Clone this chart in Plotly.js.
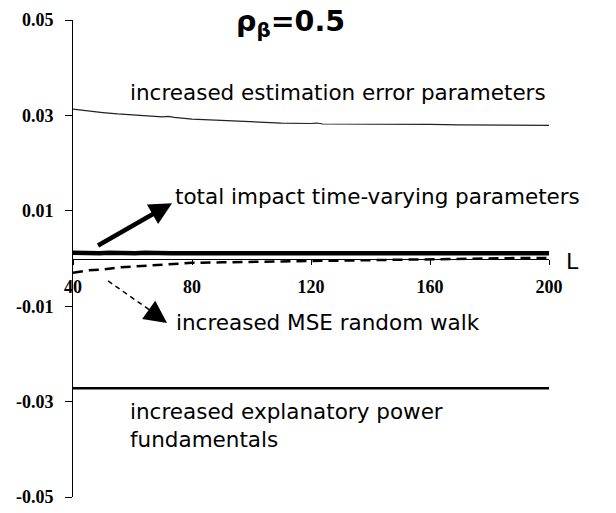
<!DOCTYPE html>
<html>
<head>
<meta charset="utf-8">
<script src="https://cdn.plot.ly/plotly-3.0.1.min.js"></script>
<style>html,body{margin:0;padding:0;background:#fff;}#chart{width:616px;height:513px;}</style>
</head>
<body>
<div id="chart"></div>
<script>
// Horizon L values and series
const L_est = [40,45,50,55,60,65,70,72,74,80,90,95,100,110,120,122,124,130,140,150,160,170,180,190,200];
const estErr = [0.0313,0.0309,0.0306,0.0303,0.0301,0.0299,0.0297,0.0298,0.0296,0.0292,0.0289,0.0288,0.0286,0.0284,0.0283,0.0284,0.0282,0.0282,0.0282,0.0281,0.0281,0.0280,0.0280,0.0280,0.0279];

const L_tot = [40,43,46,49,52,55,58,61,64,67,70,73,80,90,94,97,100,103,106,109,112,115,118,121,124,130,140,150,160,170,180,190,200];
const totImpact = [0.0012,0.0011,0.0012,0.0011,0.0012,0.0011,0.0012,0.0011,0.0012,0.0011,0.0012,0.0011,0.0011,0.0011,0.0011,0.0010,0.0011,0.0011,0.0011,0.0011,0.0012,0.0011,0.0012,0.0011,0.0011,0.0011,0.0011,0.0011,0.0011,0.0011,0.0011,0.0011,0.0011];

const L_rw = [40,45,50,55,60,65,70,75,80,90,100,110,120,130,140,150,160,170,180,190,200];
const mseRW = [-0.0030,-0.0025,-0.0023,-0.0019,-0.0017,-0.0015,-0.0013,-0.0010,-0.0009,-0.0008,-0.0007,-0.0006,-0.0005,-0.0004,-0.0003,-0.0002,-0.0001,-0.0001,0.0000,0.0001,0.0001];

const L_fund = [40,80,120,160,200];
const explPower = [-0.0272,-0.0272,-0.0272,-0.0272,-0.0272];

const yTickVals = [0.05,0.03,0.01,-0.01,-0.03,-0.05];
const yTickText = ["0.05","0.03","0.01","-0.01","-0.03","-0.05"];
const xTickVals = [40,80,120,160,200];
const xTickText = ["40","80","120","160","200"];

const traces = [
  {x:L_est, y:estErr, mode:'lines', line:{color:'#222', width:1.2}, hoverinfo:'skip'},
  {x:L_tot, y:totImpact, mode:'lines', line:{color:'#000', width:4.5}, hoverinfo:'skip'},
  {x:L_rw, y:mseRW, mode:'lines', line:{color:'#000', width:2.5, dash:'10px,6px'}, hoverinfo:'skip'},
  {x:L_fund, y:explPower, mode:'lines', line:{color:'#000', width:2.5}, hoverinfo:'skip'}
];

const txtFont = {family:'DejaVu Sans, sans-serif', size:21.5, color:'#000'};
const tickFont = {family:'Liberation Serif, Times New Roman, serif', size:18, color:'#000', weight:'bold'};

const layout = {
  width:616, height:513,
  margin:{l:73, r:67, t:20, b:16},
  paper_bgcolor:'#fff', plot_bgcolor:'#fff',
  showlegend:false,
  xaxis:{
    range:[40,200], anchor:'free', position:0.5,
    showline:true, linecolor:'#000', linewidth:1,
    showgrid:false, zeroline:false,
    tickvals:xTickVals, ticktext:xTickText,
    ticks:'outside', ticklen:5, tickcolor:'#000',
    ticklabelstandoff:7,
    tickfont:tickFont
  },
  yaxis:{
    range:[-0.05,0.05],
    showline:true, linecolor:'#000', linewidth:1,
    showgrid:false, zeroline:false,
    tickvals:yTickVals, ticktext:yTickText,
    ticks:'outside', ticklen:7, tickcolor:'#000',
    ticklabelstandoff:8,
    tickfont:tickFont
  },
  shapes:[
    {type:'line', xref:'x', yref:'y', x0:51.8, y0:-0.0047, x1:67.6, y1:-0.0116,
     line:{color:'#000', width:1.5, dash:'5px,4px'}}
  ],
  annotations:[
    {xref:'x', yref:'y', x:113, y:0.0493, text:'<b>ρ<sub>β</sub>=0.5</b>', showarrow:false,
     font:{family:'DejaVu Sans, sans-serif', size:28.5, color:'#000'}, xanchor:'center', yanchor:'middle'},
    {xref:'x', yref:'y', x:58.5, y:0.0347, text:'increased estimation error parameters', showarrow:false,
     font:txtFont, xanchor:'left', yanchor:'middle'},
    {xref:'x', yref:'y', x:73.6, y:0.0129, text:'total impact time-varying parameters', showarrow:false,
     font:txtFont, xanchor:'left', yanchor:'middle'},
    {xref:'paper', yref:'y', x:1.05, y:-0.0007, text:'L', showarrow:false,
     font:{family:'DejaVu Sans, sans-serif', size:22, color:'#000'}, xanchor:'center', yanchor:'middle'},
    {xref:'x', yref:'y', x:74, y:-0.0135, text:'increased MSE random walk', showarrow:false,
     font:txtFont, xanchor:'left', yanchor:'middle'},
    {xref:'x', yref:'y', x:58.5, y:-0.0350, text:'increased explanatory power<br>fundamentals', showarrow:false,
     font:txtFont, xanchor:'left', yanchor:'middle', align:'left'},
    // solid thick arrow
    {xref:'x', yref:'y', x:73.3, y:0.0116, text:' ', showarrow:true, arrowhead:2, arrowsize:1,
     arrowwidth:4.5, arrowcolor:'#000', ax:-77, ay:44},
    // arrowhead of the dashed arrow
    {xref:'x', yref:'y', x:71.6, y:-0.0135, text:' ', showarrow:true, arrowhead:2, arrowsize:3,
     arrowwidth:1.5, arrowcolor:'#000', ax:-14, ay:-10}
  ]
};

Plotly.newPlot('chart', traces, layout, {staticPlot:true, displayModeBar:false});
</script>
</body>
</html>
